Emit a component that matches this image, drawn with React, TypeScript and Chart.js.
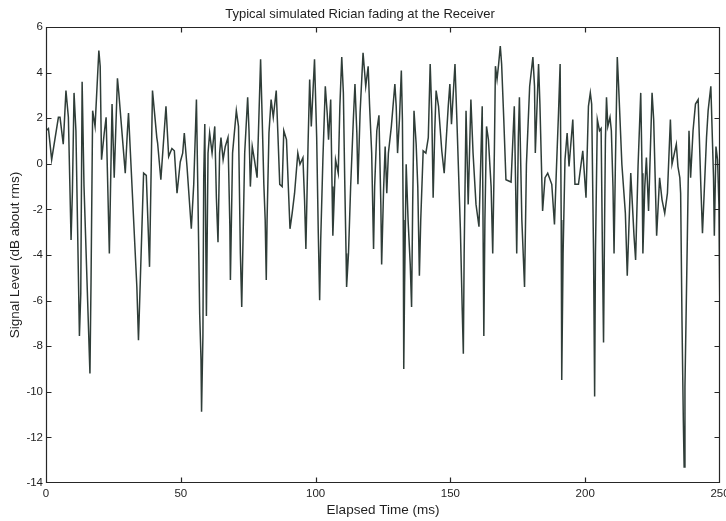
import React, { useEffect, useRef } from "react";
import { Chart, registerables } from "chart.js";

Chart.register(...registerables);

const TITLE = "Typical simulated Rician fading at the Receiver";
const X_LABEL = "Elapsed Time (ms)";
const Y_LABEL = "Signal Level (dB about rms)";
const X_MIN = 0, X_MAX = 250, X_STEP = 50;
const Y_MIN = -14, Y_MAX = 6, Y_STEP = 2;

// elapsed time (ms)
const timeMs: number[] = [
  0, 0.9, 2.1, 4.6, 5.2, 6.4, 7.4, 8.3, 9.3, 9.8, 10.4, 11.1, 12.4, 12.9, 13.4, 14.1, 16.3, 16.7, 17.3, 18.2,
  19.6, 20.1, 20.6, 21.6, 22.3, 23.5, 24.5, 25.3, 26.5, 27.0, 29.4, 30.2, 30.6, 33.7, 34.3, 36.2, 37.2, 38.4, 39.5, 41.1,
  41.4, 42.6, 44.5, 45.5, 46.7, 47.6, 48.6, 49.8, 50.7, 51.3, 52.3, 53.5, 53.9, 54.8, 55.8, 56.3, 57.0, 57.5, 57.7, 58.2,
  58.5, 58.9, 59.5, 60.1, 60.7, 61.6, 62.6, 63.2, 63.8, 64.4, 64.9, 65.7, 66.5, 67.5, 68.2, 68.4, 69.2, 70.6, 71.4, 72.1,
  72.6, 73.7, 74.8, 75.3, 75.8, 76.5, 77.3, 78.3, 79.6, 80.2, 80.8, 81.3, 81.7, 82.0, 82.7, 83.5, 84.3, 85.4, 86.0, 86.7,
  87.6, 88.2, 89.2, 90.5, 91.3, 92.2, 93.4, 94.2, 95.3, 95.9, 96.4, 97.2, 97.8, 98.4, 99.6, 100.4, 101.0, 101.5, 101.9, 102.7,
  103.6, 104.3, 104.8, 105.6, 106.1, 106.4, 107.4, 108.4, 109.0, 109.7, 110.3, 110.8, 111.3, 111.5, 112.2, 113.0, 114.0, 114.6, 115.3, 115.7,
  116.5, 117.6, 118.6, 119.5, 120.0, 120.8, 121.5, 121.9, 122.7, 123.5, 124.2, 124.5, 125.2, 125.8, 126.4, 127.0, 128.1, 129.4, 129.9, 130.4,
  131.1, 131.8, 132.2, 132.5, 132.7, 133.0, 133.6, 134.3, 135.1, 135.6, 136.0, 136.5, 137.3, 137.9, 138.5, 139.0, 139.9, 140.9, 141.8, 142.5,
  143.1, 143.6, 144.2, 144.7, 145.6, 146.8, 147.7, 148.3, 149.2, 149.8, 150.4, 151.7, 152.4, 153.7, 154.4, 154.8, 155.1, 155.8, 156.6, 157.6,
  158.4, 159.5, 160.6, 161.3, 161.8, 162.4, 162.8, 163.4, 164.1, 165.1, 165.7, 166.3, 166.7, 167.3, 167.9, 168.5, 169.0, 169.8, 170.6, 172.5,
  173.7, 174.2, 174.6, 175.2, 175.6, 176.5, 177.5, 178.2, 179.4, 180.6, 181.2, 181.5, 182.7, 183.2, 184.2, 185.1, 186.1, 187.6, 188.6, 189.3,
  190.1, 190.7, 191.1, 191.3, 191.8, 192.5, 193.3, 194.0, 195.4, 196.2, 197.5, 199.1, 200.3, 201.2, 201.9, 202.4, 203.1, 203.5, 203.8, 204.5,
  205.3, 205.9, 206.4, 206.8, 207.2, 207.5, 207.9, 208.4, 209.2, 209.7, 210.3, 210.7, 211.2, 211.9, 212.4, 213.6, 214.9, 215.6, 216.9, 217.5,
  218.1, 218.7, 219.6, 220.6, 221.1, 221.4, 222.1, 222.7, 223.5, 224.8, 225.4, 226.5, 227.6, 228.5, 229.5, 230.5, 231.6, 232.2, 233.8, 234.4,
  235.1, 235.4, 235.9, 236.4, 236.7, 237.0, 237.9, 238.5, 239.1, 240.0, 240.9, 241.9, 242.9, 243.5, 245.0, 245.6, 246.6, 247.6, 247.9, 248.5,
  249.1, 249.6, 250.0,
];

// signal level (dB about rms)
const levelDb: number[] = [
  1.45, 1.55, 0.18, 2.04, 2.04, 0.86, 3.21, 2.04, -3.34, -1.19, 3.11, 1.45, -7.55, -5.69, 3.6, -1.0, -9.2, -5.2, 2.33, 1.64,
  4.97, 4.28, 0.18, 1.35, 2.04, -3.93, 2.62, -0.61, 3.75, 3.11, -0.41, 1.45, 2.23, -5.4, -7.74, -0.41, -0.51, -4.52, 3.21, 1.15,
  0.91, -0.7, 2.52, 0.32, 0.67, 0.57, -1.29, 0.08, 0.47, 1.35, -0.12, -2.17, -2.85, -0.9, 2.82, -1.0, -6.57, -8.62, -10.87, -7.55,
  -0.61, 1.74, -6.67, 0.47, 1.35, 0.47, 1.64, -1.49, -3.44, 0.47, 1.15, 0.18, 0.76, 1.15, -2.76, -5.1, 0.47, 2.33, 1.64, -3.93,
  -6.28, 0.47, 2.92, 1.45, -1.0, 0.76, 0.18, -0.61, 4.58, 1.94, -0.9, -2.46, -5.1, -2.46, 1.35, 2.82, 2.04, 3.21, 1.35, -0.9,
  -1.0, 1.45, 1.06, -2.85, -2.17, -1.29, 0.47, -0.02, 0.27, -1.58, -3.74, 0.86, 3.7, 1.64, 4.58, 1.15, -3.05, -5.98, -3.34, 0.18,
  3.4, 2.23, 1.06, 2.82, -1.0, -3.15, 0.18, -0.41, 2.52, 4.68, 3.11, -0.7, -3.93, -5.4, -3.93, -1.0, 1.94, 3.5, 1.35, -0.9,
  2.23, 4.87, 3.4, 4.28, 2.62, 0.47, -3.74, -1.0, 1.45, 2.13, -1.78, -4.42, -1.19, 0.76, -1.29, 0.47, 1.64, 3.5, 2.52, 0.47,
  1.94, 4.09, 1.94, -2.46, -9.0, -5.4, -0.02, -2.46, -4.42, -6.28, -1.88, 2.33, 0.86, -1.0, -4.91, -2.46, 0.57, 0.47, 1.15, 4.38,
  2.23, -1.49, 1.45, 3.21, 2.52, 0.57, -0.41, 0.76, 2.52, 3.5, 1.74, 4.38, 1.94, -2.85, -6.47, -8.33, -3.93, 2.33, -1.78, 2.82,
  0.47, -1.78, -2.76, 0.27, 2.52, -7.55, -2.46, 1.64, 1.06, -1.0, -3.93, 0.47, 4.28, 3.7, 4.38, 5.16, 4.38, 1.94, -0.7, -0.8,
  2.52, -1.0, -3.93, 1.15, 2.92, -2.46, -5.4, -0.02, 3.4, 4.68, 3.4, 0.47, 4.38, 2.62, -2.07, -0.61, -0.41, -0.9, -2.66, -0.31,
  2.23, 4.38, -2.46, -9.48, -3.93, 0.18, 1.35, -0.12, 1.94, -0.9, -0.9, 0.57, -1.49, 2.52, 3.11, 2.62, -3.93, -10.21, -3.93, 1.94,
  1.45, 1.55, -3.93, -7.84, -2.46, 1.06, 2.92, 1.64, 2.04, 1.45, -1.0, -3.93, -0.02, 4.68, 3.4, -0.02, -2.17, -4.91, -0.41, -1.78,
  -3.15, -4.22, -0.12, 3.11, -0.41, -3.93, -1.0, 0.27, -2.07, 3.11, 1.94, -3.15, -0.61, -1.58, -2.17, -1.29, 1.94, -0.02, 0.86, -0.12,
  -0.61, -1.29, -6.86, -11.27, -13.3, -9.8, -3.15, 1.45, -0.61, 1.45, 2.62, 2.82, -1.0, -3.05, 1.15, 2.33, 3.4, -0.61, -3.15, 0.76,
  0.18, -1.78, -7.1,
];

const FONT = "'Liberation Sans', Arial, Helvetica, sans-serif";
const TEXT = "#1f1f1f";
const LINE = "#2f3d38";

const framePlugin = {
  id: "matlabFrame",
  afterDraw(chart: any) {
    const { ctx, chartArea: a, scales } = chart;
    const L = Math.round(a.left) + 0.5;
    const R = Math.round(a.right) - 0.5;
    const T = Math.round(a.top) + 0.5;
    const B = Math.round(a.bottom) - 0.5;
    const len = 5;
    ctx.save();
    ctx.strokeStyle = "#262626";
    ctx.lineWidth = 1.2;
    ctx.beginPath();
    ctx.rect(L, T, R - L, B - T);
    scales.x.ticks.forEach((t: any) => {
      const px = Math.round(scales.x.getPixelForValue(t.value)) + 0.5;
      if (px <= L + 1 || px >= R - 1) return;
      ctx.moveTo(px, B);
      ctx.lineTo(px, B - len);
      ctx.moveTo(px, T);
      ctx.lineTo(px, T + len);
    });
    scales.y.ticks.forEach((t: any) => {
      const py = Math.round(scales.y.getPixelForValue(t.value)) + 0.5;
      if (py <= T + 1 || py >= B - 1) return;
      ctx.moveTo(L, py);
      ctx.lineTo(L + len, py);
      ctx.moveTo(R, py);
      ctx.lineTo(R - len, py);
    });
    ctx.stroke();
    ctx.restore();
  },
};

export default function App() {
  const ref = useRef<HTMLCanvasElement | null>(null);

  useEffect(() => {
    if (!ref.current) return;
    const points = timeMs.map((t, i) => ({ x: t, y: levelDb[i] }));
    const chart = new Chart(ref.current, {
      type: "line",
      data: {
        datasets: [
          {
            data: points,
            borderColor: LINE,
            borderWidth: 1.5,
            pointRadius: 0,
            tension: 0,
            fill: false,
          },
        ],
      },
      options: {
        animation: false,
        responsive: false,
        devicePixelRatio: 1,
        layout: { padding: { left: 0, right: 6, top: 0, bottom: 0 } },
        plugins: {
          legend: { display: false },
          tooltip: { enabled: false },
          title: {
            display: true,
            text: TITLE,
            color: TEXT,
            font: { family: FONT, size: 13, weight: "normal" },
            padding: { top: 7, bottom: 4.4 },
          },
        },
        scales: {
          x: {
            type: "linear",
            min: X_MIN,
            max: X_MAX,
            grid: { display: false, drawTicks: false },
            border: { display: false },
            ticks: {
              stepSize: X_STEP,
              color: TEXT,
              font: { family: FONT, size: 11.5 },
              padding: 4,
              maxRotation: 0,
            },
            title: {
              display: true,
              text: X_LABEL,
              color: TEXT,
              font: { family: FONT, size: 13.5 },
              padding: { top: 0, bottom: 3 },
            },
            afterFit(s: any) {
              s.height = 38;
              s.paddingLeft = 0;
              s.paddingRight = 0;
            },
          },
          y: {
            type: "linear",
            min: Y_MIN,
            max: Y_MAX,
            grid: { display: false, drawTicks: false },
            border: { display: false },
            ticks: {
              stepSize: Y_STEP,
              color: TEXT,
              font: { family: FONT, size: 11.5 },
              padding: 3,
            },
            title: {
              display: true,
              text: Y_LABEL,
              color: TEXT,
              font: { family: FONT, size: 13.5 },
              padding: { top: 7, bottom: 0 },
            },
            afterFit(s: any) {
              s.width = 46;
              s.paddingTop = 0;
              s.paddingBottom = 0;
            },
          },
        },
      },
      plugins: [framePlugin],
    });
    return () => chart.destroy();
  }, []);

  return (
    <div style={{ position: "absolute", left: 0, top: 0, width: 726, height: 521, background: "#ffffff" }}>
      <canvas ref={ref} width={726} height={521} style={{ display: "block" }} />
    </div>
  );
}
